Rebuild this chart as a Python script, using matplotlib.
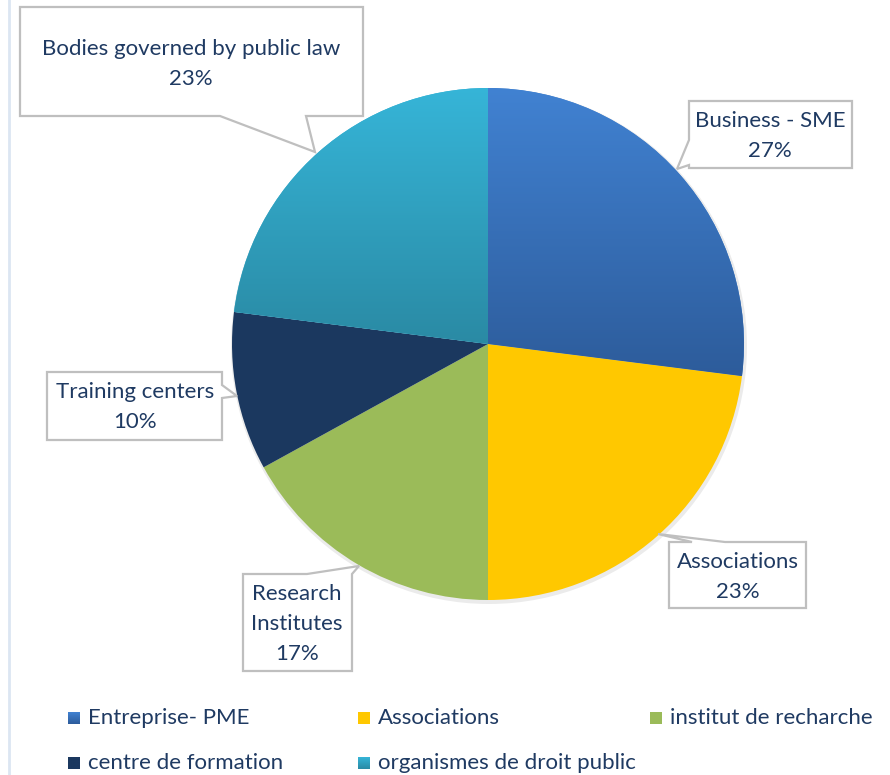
import matplotlib
matplotlib.use('Agg')
import matplotlib.pyplot as plt
import numpy as np
from matplotlib.patches import Polygon, Circle

plt.rcParams['font.family'] = ['Lato', 'DejaVu Sans']

# data
categories = ['Entreprise- PME', 'Associations', 'institut de recharche',
              'centre de formation', 'organismes de droit public']
slice_labels = ['Business - SME', 'Associations', 'Research\nInstitutes',
                'Training centers', 'Bodies governed by public law']
shares = [27, 23, 17, 10, 23]
top_colors = ['#4182d2', '#ffc800', '#9bbb59', '#1b385f', '#36b5d8']
bottom_colors = ['#2d5c9b', '#ffc800', '#9bbb59', '#1b385f', '#2a8aa4']

W, H = 890, 775
text_col = '#1f3a62'

fig = plt.figure(figsize=(W / 100, H / 100), dpi=100)
ax = fig.add_axes([0, 0, 1, 1])


def py(y):
    # picture row -> data y
    return H - y


def gradient(a, b):
    a = np.array(matplotlib.colors.to_rgb(a))
    b = np.array(matplotlib.colors.to_rgb(b))
    t = np.linspace(0, 1, 256)[:, None]
    return (a[None, :] * (1 - t) + b[None, :] * t)[:, None, :]


# left border line of the frame
ax.plot([9, 9], [0, H], color='#dce6f2', lw=2)

cx, cy, r = 488, py(344), 256

# faint shadow
ax.add_patch(Circle((cx + 1, cy - 2), r + 2, color='#000000', alpha=0.08, lw=0, zorder=1))

wedges, _ = ax.pie(shares, center=(cx, cy), radius=r, startangle=90,
                   counterclock=False, colors=top_colors, frame=True,
                   wedgeprops=dict(linewidth=0, zorder=2))

# vertical gradients in each slice
for w, c0, c1 in zip(wedges, top_colors, bottom_colors):
    if c0 == c1:
        continue
    ext = w.get_path().get_extents()
    im = ax.imshow(gradient(c0, c1), extent=[ext.x0, ext.x1, ext.y0, ext.y1], origin='upper',
                   aspect='auto', zorder=3, interpolation='bilinear')
    im.set_clip_path(w)

# callout boxes: (x0, y0, x1, y1) in picture pixels, pointer base on an edge, tip
boxes = [
    dict(box=(689, 101, 852, 168), edge='left', base=(140, 165), tip=(677, 169), text=(770, 136)),
    dict(box=(669, 542, 806, 608), edge='top', base=(725, 692), tip=(658, 534), text=(738, 577)),
    dict(box=(243, 574, 352, 671), edge='top', base=(352, 307), tip=(359, 566), text=(297, 624)),
    dict(box=(47, 372, 222, 440), edge='right', base=(385, 398), tip=(237, 396), text=(135, 407)),
    dict(box=(20, 7, 363, 116), edge='bottom', base=(220, 306), tip=(315, 152), text=(191, 64)),
]

for b, lab, s in zip(boxes, slice_labels, shares):
    x0, y0, x1, y1 = b['box']
    p, q = b['base']
    tx, ty = b['tip']
    if b['edge'] == 'left':
        pts = [(x0, y0), (x1, y0), (x1, y1), (x0, y1), (x0, q), (tx, ty), (x0, p)]
    elif b['edge'] == 'right':
        pts = [(x0, y0), (x1, y0), (x1, p), (tx, ty), (x1, q), (x1, y1), (x0, y1)]
    elif b['edge'] == 'top':
        pts = [(x0, y0), (q, y0), (tx, ty), (p, y0), (x1, y0), (x1, y1), (x0, y1)]
    else:
        pts = [(x0, y0), (x1, y0), (x1, y1), (q, y1), (tx, ty), (p, y1), (x0, y1)]
    pts = [(x, py(y)) for x, y in pts]
    ax.add_patch(Polygon(pts, closed=True, facecolor='white', edgecolor='#bfbfbf',
                         lw=1.6, zorder=5, joinstyle='miter'))
    ax.text(b['text'][0], py(b['text'][1]), f'{lab}\n{s}%', ha='center', va='center',
            fontsize=16, color=text_col, zorder=6, linespacing=1.6)

# legend
slots = [(68, 718), (358, 718), (650, 718), (68, 763), (358, 763)]
for (lx, ly), name, c0, c1 in zip(slots, categories, top_colors, bottom_colors):
    ax.imshow(gradient(c0, c1), extent=[lx, lx + 12, py(ly) - 6, py(ly) + 6],
              origin='upper', aspect='auto', zorder=5, interpolation='bilinear')
    ax.text(lx + 20, py(ly), name, ha='left', va='center', fontsize=16,
            color=text_col, zorder=6)

ax.set_xlim(0, W)
ax.set_ylim(0, H)
ax.set_aspect('equal')
ax.axis('off')

fig.savefig('out.png', dpi=100)
